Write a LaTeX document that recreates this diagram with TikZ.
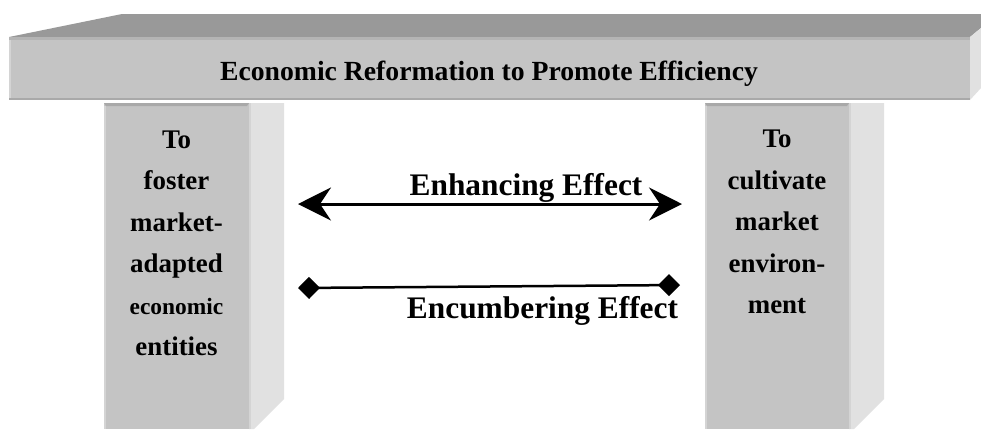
\documentclass[tikz,border=0pt]{standalone}
\usepackage{fontspec}
\setmainfont{Liberation Serif}
\usetikzlibrary{arrows.meta}
\definecolor{topface}{HTML}{999999}
\definecolor{frontface}{HTML}{C4C4C4}
\definecolor{sideface}{HTML}{E1E1E1}
\definecolor{bandcol}{HTML}{A9A9A9}
\definecolor{edgelight}{HTML}{D4D4D4}
\begin{document}
\begin{tikzpicture}[x=1bp,y=-1bp,
  front/.style={fill=frontface, draw=none},
  side/.style={fill=sideface, draw=none},
  topf/.style={fill=topface, draw=none},
  band/.style={fill=bandcol, draw=none},
  pillartext/.style={font=\fontsize{27}{41.6}\selectfont\bfseries, align=center, inner sep=0pt, anchor=north},
  effecttext/.style={font=\fontsize{31.5}{36}\selectfont\bfseries, inner sep=0pt, anchor=base},
  beamtext/.style={font=\fontsize{27.8}{32}\selectfont\bfseries, inner sep=0pt, anchor=base}]
\useasboundingbox (0,0) rectangle (981,429);
\clip (0,0) rectangle (981,429);
\fill[white] (0,0) rectangle (981,429);
% left pillar
\path[side] (249,103) -- (284,103) -- (284,399) -- (254,429) -- (249,429) -- cycle;
\path[front] (104,103) rectangle (249,429);
\path[band] (104,103) -- (249,103) -- (247,106) -- (106,106) -- cycle;
\path[fill=edgelight] (104,106) rectangle (106,429);
\path[fill=edgelight] (249,103) rectangle (251,429);
% right pillar
\path[side] (849,103) -- (884,103) -- (884,399) -- (854,429) -- (849,429) -- cycle;
\path[front] (705,103) rectangle (849,429);
\path[band] (705,103) -- (849,103) -- (847,106) -- (707,106) -- cycle;
\path[fill=edgelight] (705,106) rectangle (707,429);
\path[fill=edgelight] (849,103) rectangle (851,429);
% beam
\path[topf] (9,37) -- (122,14) -- (981,14) -- (981,28) -- (970,37) -- cycle;
\path[side] (970,37) -- (981,28) -- (981,88) -- (970,100) -- cycle;
\path[front] (9,37) rectangle (970,100);
\path[fill=bandcol!60!frontface] (9,37) rectangle (970,39.5);
\path[band] (9,97.5) rectangle (970,100);
\path[fill=edgelight] (9,39.5) rectangle (11,97.5);
\node[beamtext] (beam) at (489,80) {Economic Reformation to Promote Efficiency};
% pillar texts
\node[pillartext] (left) at (176.5,130.5) {To\\foster\\market-\\adapted\\{\fontsize{23.5}{41.6}\selectfont economic}\\entities};
\node[pillartext] (right) at (777,130) {To\\cultivate\\market\\environ-\\ment};
% effects
\coordinate (enhL) at (298,204);
\coordinate (enhR) at (682,204);
\draw[line width=3bp, {Stealth[length=33bp,width=33bp,inset=11bp]}-{Stealth[length=33bp,width=33bp,inset=11bp]}] (enhL) -- (enhR);
\node[effecttext] (enh) at (526,195) {Enhancing Effect};
\coordinate (encL) at (298,288);
\coordinate (encR) at (680,285);
\draw[line width=2.5bp, {Diamond[length=22bp,width=22bp]}-{Diamond[length=22bp,width=22bp]}] (encL) -- (encR);
\node[effecttext] (enc) at (542.5,318) {Encumbering Effect};
\end{tikzpicture}
\end{document}
